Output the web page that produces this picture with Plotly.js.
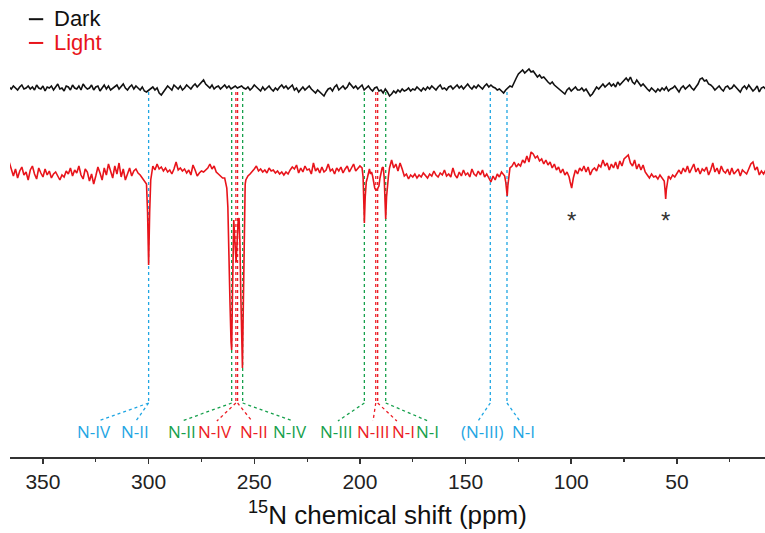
<!DOCTYPE html>
<html>
<head>
<meta charset="utf-8">
<script src="https://cdn.plot.ly/plotly-3.0.1.min.js"></script>
<style>html,body{margin:0;padding:0;background:#fff;}#chart{width:765px;height:533px;}</style>
</head>
<body>
<div id="chart"></div>
<script>
// ---------- DATA ----------
const darkPpm = [
366,365,364,363,362,361,360,359,358,357,
356,355,354,353,352,351,350,349,348,347,
346,345,344,343,342,341,340,339,338,337,
336,335,334,333,332,331,330,329,328,327,
326,325,324,323,322,321,320,319,318,317,
316,315,314,313,312,311,310,309,308,307,
306,305,304,303,302,301,300,299,298,297,
296,295,294,293,292,291,290,289,288,287,
286,285,284,283,282,281,280,279,278,277,
276,275,274,273,272,271,270,269,268,267,
266,265,264,263,262,261,260,259,258,257,
256,255,254,253,252,251,250,249,248,247,
246,245,244,243,242,241,240,239,238,237,
236,235,234,233,232,231,230,229,228,227,
226,225,224,223,222,221,220,219,218,217,
216,215,214,213,212,211,210,209,208,207,
206,205,204,203,202,201,200,199,198,197,
196,195,194,193,192,191,190,189,188,187,
186,185,184,183,182,181,180,179,178,177,
176,175,174,173,172,171,170,169,168,167,
166,165,164,163,162,161,160,159,158,157,
156,155,154,153,152,151,150,149,148,147,
146,145,144,143,142,141,140,139,138,137,
136,135,134,133,132,131,130,129,128,127,
126,125,124,123,122,121,120,119,118,117,
116,115,114,113,112,111,110,109,108,107,
106,105,104,103,102,101,100,99,98,97,
96,95,94,93,92,91,90,89,88,87,
86,85,84,83,82,81,80,79,78,77,
76,75,74,73,72,71,70,69,68,67,
66,65,64,63,62,61,60,59,58,57,
56,55,54,53,52,51,50,49,48,47,
46,45,44,43,42,41,40,39,38,37,
36,35,34,33,32,31,30,29,28,27,
26,25,24,23,22,21,20,19,18,17,
16,15,14,13,12,11,10,9,8
];
const darkIntensity = [
1,-1,2,0,-2,1,3,-1,0,2,
-1,1,-2,3,0,-1,2,-3,1,0,
2,-2,1,4,-1,0,-3,2,1,-2,
3,0,-1,2,-2,4,1,-1,0,3,
-2,1,2,-3,0,3,-1,2,-2,0,
1,3,-1,2,4,0,-2,1,3,-1,
2,0,-2,1,-3,-4,-2,0,1,-2,
0,-5,-7,-4,-1,2,0,-2,3,1,
-1,2,-2,0,3,1,-1,2,4,1,
3,6,8,4,2,0,3,-1,1,2,
-1,1,3,0,2,-1,1,2,0,1,
2,0,-1,1,-2,0,3,1,-1,-3,
1,-2,0,2,-1,-3,0,-2,1,3,
0,2,-1,1,3,-2,0,-4,-1,1,
-2,0,2,-1,-3,-5,-2,-4,-6,-8,
-4,-1,0,-3,1,3,-2,0,2,-1,
1,5,3,0,2,-1,1,3,-2,0,
2,-1,-3,0,1,-3,-2,-5,-1,-4,
-8,-6,-3,-5,-2,-4,-1,-3,-2,0,
-3,-1,-2,1,-1,-3,0,-2,1,-1,
2,0,-2,1,3,-1,0,-2,1,2,
-1,1,3,0,2,-1,1,4,1,-1,
2,0,3,1,-1,2,4,1,3,1,
0,-2,-1,-3,-5,-2,0,2,1,6,
10,14,16,18,15,17,19,16,17,14,
11,13,10,11,8,6,4,6,3,1,
-1,-3,-5,-6,-2,0,-3,-1,1,-2,
-2,0,-3,-1,-5,-8,-6,-2,1,-1,
2,4,1,3,5,2,4,1,6,3,
5,8,10,7,11,6,4,8,5,2,
4,1,-1,-3,0,-2,-4,-1,-3,0,
-2,1,-3,-1,0,2,-1,-4,0,2,
-1,1,3,0,-2,1,4,9,10,7,
8,4,3,1,-2,0,2,-1,-3,1,
2,-1,0,3,1,-2,-4,0,2,-1,
3,0,-3,-1,2,-4,0,1,-1
];
// [ppm, intensity]
const lightSpectrum = [
[366,10],[365,2],[364,-4],[363,3],[362,-6],[361,1],[360,5],[359,-3],[358,0],[357,-8],
[356,2],[355,6],[354,-2],[353,-7],[352,4],[351,-1],[350,-5],[349,3],[348,-3],[347,1],
[346,-6],[345,-2],[344,0],[343,-4],[342,-8],[341,-3],[340,-5],[339,1],[338,-2],[337,4],
[336,-4],[335,2],[334,-1],[333,6],[332,-3],[331,-7],[330,3],[329,0],[328,-9],[327,-2],
[326,-12],[325,-4],[324,5],[323,-1],[322,-8],[321,4],[320,-3],[319,8],[318,1],[317,-6],
[316,6],[315,-2],[314,9],[313,-5],[312,3],[311,-8],[310,-2],[309,4],[308,-4],[307,1],
[306,3],[305,-1],[304,-3],[303,-6],[302,-10],[301,-12],[300.5,-40],[300,-93],[299.5,-40],[299,-8],
[298,6],[297,2],[296,8],[295,3],[294,5],[293,1],[292,4],[291,0],[290,2],[289,-2],
[288,3],[287,10],[286,2],[285,4],[284,1],[283,3],[282,-1],[281,2],[280,-3],[279,7],
[278,2],[277,-4],[276,-1],[275,1],[274,0],[273,2],[272,4],[271,8],[270,3],[269,6],
[268,0],[267,-2],[266,-4],[265,-6],[264,-6],[263.5,-10],[263,-16],[262.5,-35],[262,-70],[261.5,-130],
[261,-170],[260.7,-178],[260.3,-120],[260,-60],[259.7,-48],[259.3,-65],[258.9,-86],[258.6,-90],[258.3,-78],[258,-60],
[257.6,-48],[257.2,-46],[256.8,-70],[256.4,-120],[256,-170],[255.6,-196],[255.3,-150],[255,-90],[254.6,-30],[254.3,-12],
[254,-8],[253,-4],[252,-2],[251,0],[250,3],[249,6],[248,1],[247,3],[246,0],[245,2],
[244,-1],[243,4],[242,1],[241,2],[240,-1],[239,1],[238,-2],[237,0],[236,-3],[235,0],
[234,-2],[233,2],[232,5],[231,3],[230,7],[229,-1],[228,4],[227,0],[226,6],[225,2],
[224,3],[223,-2],[222,9],[221,1],[220,4],[219,-1],[218,5],[217,0],[216,2],[215,8],
[214,1],[213,3],[212,-2],[211,4],[210,1],[209,5],[208,-1],[207,3],[206,6],[205,0],
[204,4],[203,8],[202,1],[201,3],[200,6],[199,4],[198.5,-5],[198.1,-35],[197.9,-51],[197.5,-25],
[197,-10],[196.5,-6],[196,0],[195.5,3],[195,-2],[194.5,0],[194,-4],[193.5,-12],[193,-16],[192.5,-18],
[192,-18],[191.5,-16],[191,-14],[190.5,-6],[190,0],[189.5,4],[189,5],[188.5,-6],[188.1,-30],[187.8,-47],
[187.4,-25],[187,-12],[186.5,-4],[186,4],[185.5,10],[185,12],[184,4],[183,8],[182,1],[181,9],
[180,3],[179,-4],[178,-2],[177,-7],[176,-3],[175,-5],[174,-2],[173,-6],[172,-3],[171,-5],
[170,-1],[169,-4],[168,-6],[167,-2],[166,-4],[165,1],[164,-3],[163,-5],[162,-1],[161,-3],
[160,2],[159,-4],[158,-2],[157,-5],[156,4],[155,-3],[154,-6],[153,0],[152,-4],[151,2],
[150,-3],[149,-1],[148,-5],[147,3],[146,-2],[145,-4],[144,1],[143,-3],[142,2],[141,-5],
[140,-2],[139,-6],[138,-10],[137,-4],[136,-8],[135,-2],[134,-5],[133,0],[132,-3],[131.5,-4],
[131,-10],[130.6,-20],[130.3,-24],[130,-14],[129.5,0],[129,4],[128,6],[127,10],[126,5],[125,8],
[124,6],[123,12],[122,9],[121,16],[120,10],[119,20],[118,18],[117,14],[116,16],[115,11],
[114,13],[113,8],[112,12],[111,7],[110,10],[109,4],[108,8],[107,2],[106,5],[105,-1],
[104,3],[103,-3],[102,0],[101,-5],[100.5,-10],[99.8,-16],[99,-6],[98,2],[97,-2],[96,4],
[95,1],[94,6],[93,0],[92,5],[91,-3],[90,2],[89,4],[88,1],[87,7],[86,5],
[85,12],[84,6],[83,9],[82,2],[81,8],[80,4],[79,10],[78,3],[77,11],[76,6],
[75,13],[74,15],[73,17],[72,9],[71,6],[70,12],[69,3],[68,8],[67,2],[66,7],
[65,0],[64,-3],[63,-6],[62,-2],[61,-5],[60,-4],[59,-7],[58,-3],[57,-6],[56,-9],
[55.6,-18],[55.3,-27],[55,-18],[54.5,-8],[54,-4],[53,-7],[52,-3],[51,-5],[50,-1],[49,2],
[48,-2],[47,4],[46,0],[45,6],[44,-1],[43,3],[42,8],[41,0],[40,4],[39,-2],
[38,3],[37,1],[36,5],[35,-3],[34,2],[33,9],[32,0],[31,4],[30,-2],[29,6],
[28,1],[27,-1],[26,3],[25,-3],[24,4],[23,-2],[22,1],[21,3],[20,-4],[19,2],
[18,0],[17,-2],[16,3],[15,8],[14,10],[13,2],[12,5],[11,-3],[10,1],[9,-2],[8,2]
];

// Assignment lines (ppm) and labels
const blueShifts  = [300, 138.3, 130.4];
const greenShifts = [260.7, 255.5, 197.9, 187.8];
const redShifts   = [258.7, 257.9, 192.5, 191.6];
const labelTexts  = ['N-IV','N-II','N-II','N-IV','N-II','N-IV','N-III','N-III','N-I','N-I','(N-III)','N-I'];
const labelGroups = ['b','b','g','r','r','g','g','r','r','g','b','b'];
const labelPpm    = [325.9, 306.5, 284.2, 268.6, 250.1, 233.1, 211.3, 193.8, 179.2, 167.8, 142.2, 122.8];
const labelSource = [300, 300, 260.7, 258.7, 257.9, 255.5, 197.9, 192.5, 191.6, 187.8, 138.3, 130.4];
const labelAnchor = [324, 306, 284.2, 267.7, 251.1, 231.7, 210.4, 193.8, 182.5, 167.8, 144.1, 124.3];
const artifactPpm = [99.8, 55.3];

// ---------- STYLE ----------
const COL = {b:'#1fa6e3', g:'#16a04c', r:'#ec1c24'};
const DARK_OFFSET = -88, LIGHT_OFFSET = -172;
const LINE_TOP = -92, LINE_BOTTOM = -403, LABEL_TOP = -421, LABEL_Y = -431;

const traces = [
  {x: darkPpm, y: darkIntensity.map(v => v + DARK_OFFSET), type:'scatter', mode:'lines',
   name:'Dark', line:{color:'#111111', width:1.6}, showlegend:false, hoverinfo:'skip'},
  {x: lightSpectrum.map(p => p[0]), y: lightSpectrum.map(p => p[1] + LIGHT_OFFSET), type:'scatter', mode:'lines',
   name:'Light', line:{color:'#e8141b', width:1.6}, showlegend:false, hoverinfo:'skip'}
];

const shapes = [];
function vline(ppm, col){
  shapes.push({type:'line', xref:'x', yref:'y', x0:ppm, x1:ppm, y0:LINE_TOP, y1:LINE_BOTTOM,
    line:{color:col, width:1.3, dash:'dot'}, layer:'below'});
}
blueShifts.forEach(p => vline(p, COL.b));
greenShifts.forEach(p => vline(p, COL.g));
redShifts.forEach(p => vline(p, COL.r));
labelSource.forEach((p, i) => {
  shapes.push({type:'line', xref:'x', yref:'y', x0:p, x1:labelAnchor[i], y0:LINE_BOTTOM, y1:LABEL_TOP,
    line:{color:COL[labelGroups[i]], width:1.3, dash:'dot'}, layer:'below'});
});
// legend dashes
shapes.push({type:'line', xref:'paper', yref:'paper', x0:0.025, x1:0.044, y0:0.958, y1:0.958, line:{color:'#111', width:2}});
shapes.push({type:'line', xref:'paper', yref:'paper', x0:0.025, x1:0.044, y0:0.906, y1:0.906, line:{color:'#e8141b', width:2}});

const annotations = labelTexts.map((t, i) => ({
  x: labelPpm[i], y: LABEL_Y, xref:'x', yref:'y', text:t, showarrow:false, yanchor:'middle',
  font:{family:'Open Sans, Noto Sans, sans-serif', size:17, color:COL[labelGroups[i]]}
}));
artifactPpm.forEach(p => annotations.push({x:p, y:-220, xref:'x', yref:'y', text:'*', showarrow:false, yanchor:'middle',
  font:{family:'Liberation Sans, Arial, sans-serif', size:24, color:'#333'}}));
annotations.push({x:0.056, y:0.96, xref:'paper', yref:'paper', text:'Dark', showarrow:false, xanchor:'left', yanchor:'middle',
  font:{family:'Liberation Sans, Arial, sans-serif', size:22, color:'#111'}});
annotations.push({x:0.056, y:0.907, xref:'paper', yref:'paper', text:'Light', showarrow:false, xanchor:'left', yanchor:'middle',
  font:{family:'Liberation Sans, Arial, sans-serif', size:22, color:'#e8141b'}});
// axis title, placed below the tick labels
annotations.push({x:0.5, y:-0.163, xref:'paper', yref:'paper', text:'<sup>15</sup>N chemical shift (ppm)',
  showarrow:false, xanchor:'center', yanchor:'bottom', borderpad:0,
  font:{family:'Liberation Sans, Arial, sans-serif', size:26, color:'#111'}});

const layout = {
  width:765, height:533,
  margin:{l:10, r:0, t:0, b:76},
  paper_bgcolor:'#fff', plot_bgcolor:'#fff',
  showlegend:false,
  xaxis:{
    range:[365.6, 8.3], dtick:50, tick0:0,
    ticks:'outside', ticklen:5, tickwidth:1.5, tickcolor:'#333',
    minor:{dtick:25, tick0:0, ticks:'outside', ticklen:3, tickwidth:1.2, tickcolor:'#333'},
    showline:true, linecolor:'#333', linewidth:1.6,
    showgrid:false, zeroline:false,
    tickfont:{family:'Liberation Sans, Arial, sans-serif', size:21, color:'#222'}
  },
  yaxis:{range:[-457, 0], visible:false, fixedrange:true},
  shapes:shapes, annotations:annotations
};

Plotly.newPlot('chart', traces, layout, {staticPlot:true, displayModeBar:false});
</script>
</body>
</html>
